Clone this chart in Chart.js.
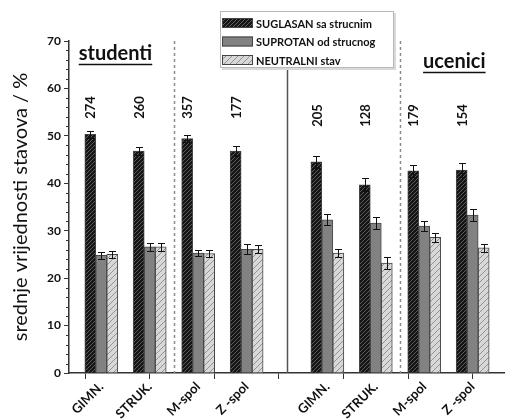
<!DOCTYPE html>
<html>
<head>
<meta charset="utf-8">
<script src="https://cdn.jsdelivr.net/npm/chart.js@4"></script>
<style>
  html, body { margin: 0; padding: 0; background: #fff; }
  #wrap { width: 516px; height: 420px; position: relative; }
</style>
</head>
<body>
<div id="wrap"><canvas id="chart"></canvas></div>
<script>
const groupLabels = ['GIMN.', 'STRUK.', 'M-spol', 'Z -spol', 'GIMN.', 'STRUK.', 'M-spol', 'Z -spol'];
const suglasan = [50.3, 46.8, 49.4, 46.8, 44.5, 39.7, 42.6, 42.8];
const suglasanErr = [0.8, 0.9, 0.8, 1.1, 1.3, 1.4, 1.2, 1.4];
const suprotan = [24.8, 26.6, 25.3, 26.1, 32.3, 31.6, 31.0, 33.3];
const suprotanErr = [0.7, 0.9, 0.7, 1.1, 1.2, 1.2, 1.0, 1.3];
const neutralni = [25.0, 26.6, 25.2, 26.1, 25.3, 23.2, 28.6, 26.4];
const neutralniErr = [0.7, 0.9, 0.7, 0.9, 0.8, 1.3, 1.0, 0.9];
const counts = [274, 260, 357, 177, 205, 128, 179, 154];
const seriesNames = ['SUGLASAN sa strucnim', 'SUPROTAN od strucnog', 'NEUTRALNI stav'];

// the x axis is cut into thin slots so the two halves can sit apart
const SLOTS = 28;
const slotOf = i => 2 + 3 * i + (i >= 4 ? 2 : 0);
const labels = new Array(SLOTS).fill('');
groupLabels.forEach((l, i) => { labels[slotOf(i)] = l; });
function spread(arr) {
  const out = new Array(SLOTS).fill(null);
  arr.forEach((v, i) => { out[slotOf(i)] = v; });
  return out;
}

function hatch(bg, fg, gap) {
  const c = document.createElement('canvas');
  c.width = c.height = gap;
  const g = c.getContext('2d');
  g.fillStyle = bg;
  g.fillRect(0, 0, gap, gap);
  g.strokeStyle = fg;
  g.lineWidth = 1;
  g.beginPath();
  g.moveTo(-1, 1); g.lineTo(1, -1);
  g.moveTo(0, gap); g.lineTo(gap, 0);
  g.moveTo(gap - 1, gap + 1); g.lineTo(gap + 1, gap - 1);
  g.stroke();
  return g.createPattern(c, 'repeat');
}
const fills = [hatch('#151515', '#5c5c5c', 4), '#828282', hatch('#d8d8d8', '#929292', 6)];
const errs = [suglasanErr, suprotanErr, neutralniErr];

const decor = {
  id: 'decor',
  beforeDatasetsDraw(chart) {
    const { ctx, chartArea: a, scales: { x, y } } = chart;
    ctx.save();
    // group separators
    [6.5, 20.5].forEach(v => {
      const px = Math.round(x.getPixelForValue(v)) + 0.5;
      ctx.strokeStyle = '#8a8a8a';
      ctx.lineWidth = 1.5;
      ctx.setLineDash([3, 3]);
      ctx.beginPath(); ctx.moveTo(px, a.top); ctx.lineTo(px, a.bottom); ctx.stroke();
    });
    ctx.setLineDash([]);
    const mid = Math.round(x.getPixelForValue(13.5)) + 0.5;
    ctx.strokeStyle = '#555';
    ctx.lineWidth = 1.5;
    ctx.beginPath(); ctx.moveTo(mid, a.top); ctx.lineTo(mid, a.bottom); ctx.stroke();
    // minor y ticks
    ctx.strokeStyle = '#333';
    ctx.lineWidth = 1;
    for (let v = 0; v <= 70; v += 2) {
      if (v % 10 === 0) continue;
      const py = Math.round(y.getPixelForValue(v)) + 0.5;
      ctx.beginPath(); ctx.moveTo(a.left - 3, py); ctx.lineTo(a.left, py); ctx.stroke();
    }
    ctx.restore();
  },
  afterDatasetsDraw(chart) {
    const { ctx, scales: { y } } = chart;
    ctx.save();
    ctx.strokeStyle = '#111';
    ctx.lineWidth = 1;
    chart.data.datasets.forEach((ds, d) => {
      const meta = chart.getDatasetMeta(d);
      meta.data.forEach((bar, i) => {
        const v = ds.data[i];
        if (v === null) return;
        const e = ds.err[i];
        const t = Math.round(y.getPixelForValue(v + e)) + 0.5;
        const b = Math.round(y.getPixelForValue(v - e)) + 0.5;
        const cx = Math.round(bar.x) + 0.5;
        ctx.beginPath();
        ctx.moveTo(cx, t); ctx.lineTo(cx, b);
        ctx.moveTo(cx - 3.5, t); ctx.lineTo(cx + 3.5, t);
        ctx.moveTo(cx - 3.5, b); ctx.lineTo(cx + 3.5, b);
        ctx.stroke();
      });
    });
    // respondent counts over each group
    const meta0 = chart.getDatasetMeta(0);
    ctx.fillStyle = '#111';
    ctx.font = 'bold 13px Lato';
    ctx.textAlign = 'center';
    ctx.textBaseline = 'middle';
    counts.forEach((n, i) => {
      const bar = meta0.data[slotOf(i)];
      const cy = y.getPixelForValue(i < 4 ? 56 : 54.3);
      ctx.save();
      ctx.translate(bar.x + 1, cy);
      ctx.rotate(-Math.PI / 2);
      ctx.fillText(String(n), 0, 0);
      ctx.restore();
    });
    ctx.restore();
  },
  afterDraw(chart) {
    const { ctx, scales: { x } } = chart;
    ctx.save();
    // group titles
    ctx.fillStyle = '#111';
    ctx.strokeStyle = '#111';
    ctx.font = 'bold 20px Lato';
    ctx.textBaseline = 'alphabetic';
    ctx.textAlign = 'left';
    const sx = x.getPixelForValue(0.6);
    ctx.fillText('studenti', sx, 60);
    let w = ctx.measureText('studenti').width;
    ctx.lineWidth = 1.3;
    ctx.beginPath(); ctx.moveTo(sx, 64.5); ctx.lineTo(sx + w, 64.5); ctx.stroke();
    ctx.textAlign = 'right';
    const ux = x.getPixelForValue(25.8);
    ctx.fillText('ucenici', ux, 68);
    w = ctx.measureText('ucenici').width;
    ctx.beginPath(); ctx.moveTo(ux - w, 72.5); ctx.lineTo(ux, 72.5); ctx.stroke();

    // legend box
    const lx = 220, ly = 11, lw = 173, lh = 56;
    ctx.fillStyle = '#d9d9d9';
    ctx.fillRect(lx + 2, ly + 2, lw + 1, lh + 1);
    ctx.fillStyle = '#fff';
    ctx.fillRect(lx, ly, lw, lh);
    ctx.strokeStyle = '#b8b8b8';
    ctx.lineWidth = 1;
    ctx.strokeRect(lx + 0.5, ly + 0.5, lw, lh);
    ctx.font = 'bold 11px Lato';
    ctx.textAlign = 'left';
    ctx.textBaseline = 'middle';
    seriesNames.forEach((name, k) => {
      const ry = ly + 12 + k * 18.5;
      ctx.fillStyle = fills[k];
      ctx.fillRect(lx + 2, ry - 5, 31, 10);
      ctx.strokeStyle = '#444';
      ctx.strokeRect(lx + 2.5, ry - 4.5, 30, 9);
      ctx.fillStyle = '#111';
      ctx.fillText(name, lx + 36, ry + 1);
    });
    ctx.restore();
  }
};

new Chart(document.getElementById('chart'), {
  type: 'bar',
  data: {
    labels: labels,
    datasets: [suglasan, suprotan, neutralni].map((vals, k) => ({
      label: seriesNames[k],
      data: spread(vals),
      err: spread(errs[k]),
      backgroundColor: fills[k],
      borderColor: '#474747',
      borderWidth: 1,
      barThickness: 11,
      grouped: true
    }))
  },
  options: {
    responsive: true,
    maintainAspectRatio: false,
    animation: false,
    events: [],
    layout: { padding: { top: 41, right: 0, left: 0, bottom: 0 } },
    plugins: { legend: { display: false }, tooltip: { enabled: false } },
    scales: {
      x: {
        offset: false,
        afterFit: s => { s.height = 47; },
        grid: {
          offset: false,
          drawOnChartArea: false,
          tickLength: 6,
          tickColor: c => (c.index % 4 === 1 ? '#333' : 'rgba(0,0,0,0)')
        },
        border: { color: '#333', width: 1.5 },
        ticks: {
          autoSkip: false,
          minRotation: 45,
          maxRotation: 45,
          padding: 0,
          color: '#111',
          font: { family: 'Lato', size: 13, weight: 'bold' }
        }
      },
      y: {
        min: 0,
        max: 70,
        afterFit: s => { s.width = 69; },
        ticks: {
          stepSize: 10,
          padding: 3,
          color: '#111',
          font: { family: 'Lato', size: 12, weight: 'bold' }
        },
        grid: { drawOnChartArea: false, tickLength: 5, tickColor: '#333' },
        border: { color: '#333', width: 1.5 },
        title: {
          display: true,
          text: 'srednje vrijednosti stavova / %',
          color: '#111',
          padding: { top: 9, bottom: 0 },
          font: { family: 'Lato', size: 20 }
        }
      }
    }
  },
  plugins: [decor]
});
</script>
</body>
</html>
